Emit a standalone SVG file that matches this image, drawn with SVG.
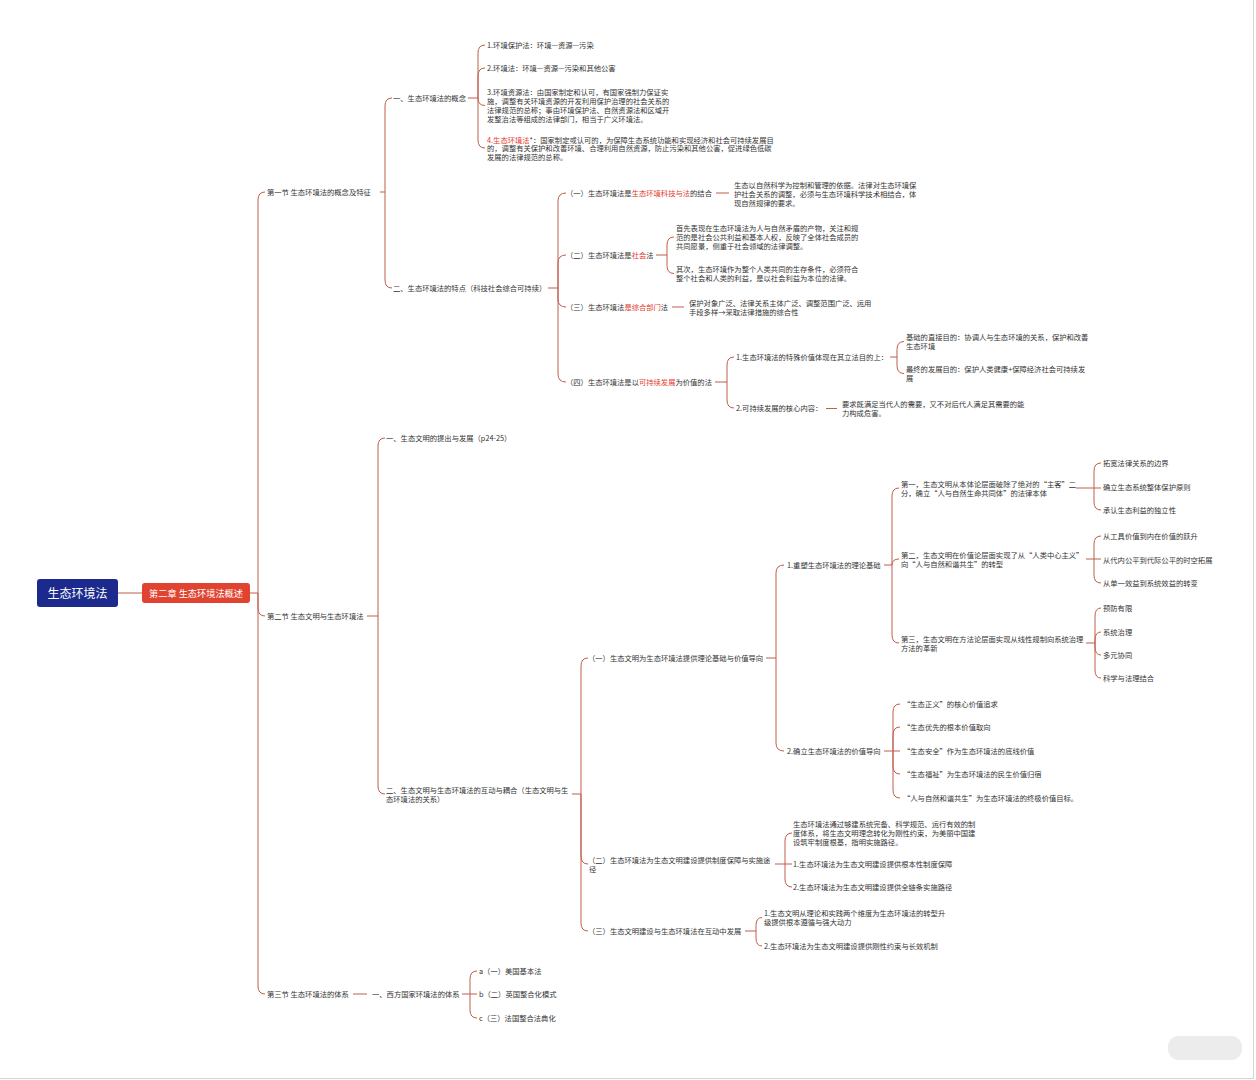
<svg xmlns="http://www.w3.org/2000/svg" width="1256" height="1080" viewBox="0 0 1256 1080">
<style>
text{font-family:"Noto Sans CJK SC","Noto Sans",sans-serif;font-size:7.3px;fill:#333}
.r{fill:#e23b2e}
.c path{fill:none;stroke:#bf5f4c;stroke-width:1}
.root{font-size:12px;fill:#fff}
.ch{font-size:9.2px;fill:#fff}
</style>
<rect width="1256" height="1080" fill="#fff"/>
<line x1="1253.5" y1="0" x2="1253.5" y2="1079" stroke="#d4d4d4"/>
<line x1="0" y1="1078.5" x2="1254" y2="1078.5" stroke="#d4d4d4"/>
<rect x="1168" y="1036" width="74" height="24" rx="11" fill="#ececec"/>

<g class="c" id="connectors">
<path d="M118 593H142"/>
<path d="M250 593H258M258 593V200Q258 192 265 192M258 593V608Q258 616 265 616M258 593V986Q258 994 265 994"/>
<path d="M380 192H385M385 192V106Q385 98 392 98M385 192V280Q385 288 392 288"/>
<path d="M468 98H478M478 98V53Q478 45 485 45M478 98V76Q478 68 485 68M478 98Q478 105.5 485 105.5M478 98V140Q478 148 485 148"/>
<path d="M548 288H558M558 288V201Q558 193 566 193M558 288V263Q558 255 566 255M558 288V299Q558 307 566 307M558 288V374Q558 382 566 382"/>
<path d="M716 193H729"/>
<path d="M656 255H667M667 255V245Q667 237 674 237M667 255V265.5Q667 273.5 674 273.5"/>
<path d="M672 307H684"/>
<path d="M715 382H727M727 382V365Q727 357 734 357M727 382V400Q727 408 734 408"/>
<path d="M890 357H897M897 357V349.5Q897 341.5 904 341.5M897 357V365.5Q897 373.5 904 373.5"/>
<path d="M826 408.5H837"/>
<path d="M367 616H378M378 616V446Q378 438 385 438M378 616V786Q378 794 385 794"/>
<path d="M572 794H581M581 794V666Q581 658 588 658M581 794V856Q581 864 588 864M581 794V923Q581 931 588 931"/>
<path d="M766 658H776M776 658V573Q776 565 784 565M776 658V743Q776 751 784 751"/>
<path d="M884 565H892M892 565V496Q892 488 899 488M892 565Q892 559 899 559M892 565V635Q892 643 899 643"/>
<path d="M1076 488H1094M1094 488V471Q1094 463 1101 463M1094 488H1101M1094 488V502Q1094 510 1101 510"/>
<path d="M1086 559H1094M1094 559V544Q1094 536 1101 536M1094 559H1101M1094 559V575Q1094 583 1101 583"/>
<path d="M1086 643H1095M1095 643V616Q1095 608 1101 608M1095 643V640Q1095 632 1101 632M1095 643V647Q1095 655 1101 655M1095 643V670Q1095 678 1101 678"/>
<path d="M884 751H893M893 751V712Q893 704 900 704M893 751V735Q893 727 900 727M893 751H900M893 751V766Q893 774 900 774M893 751V790Q893 798 900 798"/>
<path d="M775 864H785M785 864V841Q785 833 792 833M785 864H792M785 864V879Q785 887 792 887"/>
<path d="M745 931H756M756 931V925.5Q756 917.5 762 917.5M756 931V938Q756 946 762 946"/>
<path d="M353 994H367"/>
<path d="M462 994H470M470 994V979Q470 971 477 971M470 994H477M470 994V1010Q470 1018 477 1018"/>
</g>

<g id="root"><rect x="37" y="579" width="81" height="28" rx="3" fill="#1b2a8c"/><text class="root" x="77.5" y="597.5" text-anchor="middle">生态环境法</text></g>
<g id="chapter"><rect x="142" y="583" width="108" height="20" rx="3" fill="#e0432f"/><text class="ch" x="196" y="596.5" text-anchor="middle">第二章 生态环境法概述</text></g>

<g id="s1"><text x="267" y="194.7">第一节 生态环境法的概念及特征</text></g>
<g id="s1-1"><text x="393" y="100.7">一、生态环境法的概念</text></g>
<g id="s1-1-1"><text x="487" y="47.7">1.环境保护法：环境—资源—污染</text></g>
<g id="s1-1-2"><text x="487" y="70.7">2.环境法：环境—资源—污染和其他公害</text></g>
<g id="s1-1-3"><text x="487" y="94.7">3.环境资源法：由国家制定和认可，有国家强制力保证实</text><text x="487" y="103.7">施，调整有关环境资源的开发利用保护治理的社会关系的</text><text x="487" y="112.7">法律规范的总称；事由环境保护法、自然资源法和区域开</text><text x="487" y="121.7">发整治法等组成的法律部门，相当于广义环境法。</text></g>
<g id="s1-1-4"><text x="487" y="142.7"><tspan class="r">4.生态环境法</tspan>*：国家制定或认可的，为保障生态系统功能和实现经济和社会可持续发展目</text><text x="487" y="151.4">的，调整有关保护和改善环境、合理利用自然资源，防止污染和其他公害，促进绿色低碳</text><text x="487" y="160.1">发展的法律规范的总称。</text></g>
<g id="s1-2"><text x="393" y="290.7">二、生态环境法的特点（科技社会综合可持续）</text></g>
<g id="s1-2-1"><text x="566" y="195.7">（一）生态环境法是<tspan class="r">生态环境科技与法</tspan>的结合</text></g>
<g id="s1-2-1a"><text x="734" y="187.7">生态以自然科学为控制和管理的依据。法律对生态环境保</text><text x="734" y="196.7">护社会关系的调整，必须与生态环境科学技术相结合，体</text><text x="734" y="205.7">现自然规律的要求。</text></g>
<g id="s1-2-2"><text x="566" y="257.7">（二）生态环境法是<tspan class="r">社会</tspan>法</text></g>
<g id="s1-2-2a"><text x="676" y="230.7">首先表现在生态环境法为人与自然矛盾的产物，关注和规</text><text x="676" y="239.7">范的是社会公共利益和基本人权，反映了全体社会成员的</text><text x="676" y="248.7">共同愿景，侧重于社会领域的法律调整。</text></g>
<g id="s1-2-2b"><text x="676" y="271.7">其次，生态环境作为整个人类共同的生存条件，必须符合</text><text x="676" y="280.7">整个社会和人类的利益，是以社会利益为本位的法律。</text></g>
<g id="s1-2-3"><text x="566" y="309.7">（三）生态环境法<tspan class="r">是综合部门</tspan>法</text></g>
<g id="s1-2-3a"><text x="689" y="305.7">保护对象广泛、法律关系主体广泛、调整范围广泛、运用</text><text x="689" y="314.7">手段多样→采取法律措施的综合性</text></g>
<g id="s1-2-4"><text x="566" y="384.7">（四）生态环境法是以<tspan class="r">可持续发展</tspan>为价值的法</text></g>
<g id="s1-2-4-1"><text x="736" y="359.7">1.生态环境法的特殊价值体现在其立法目的上：</text></g>
<g id="s1-2-4-1a"><text x="906" y="339.7">基础的直接目的：协调人与生态环境的关系，保护和改善</text><text x="906" y="348.7">生态环境</text></g>
<g id="s1-2-4-1b"><text x="906" y="371.7">最终的发展目的：保护人类健康+保障经济社会可持续发</text><text x="906" y="380.7">展</text></g>
<g id="s1-2-4-2"><text x="736" y="410.7">2.可持续发展的核心内容：</text></g>
<g id="s1-2-4-2a"><text x="842" y="406.7">要求既满足当代人的需要，又不对后代人满足其需要的能</text><text x="842" y="415.7">力构成危害。</text></g>

<g id="s2"><text x="267" y="618.7">第二节 生态文明与生态环境法</text></g>
<g id="s2-1"><text x="386" y="440.7">一、生态文明的提出与发展（p24-25）</text></g>
<g id="s2-2"><text x="386" y="792.7">二、生态文明与生态环境法的互动与耦合（生态文明与生</text><text x="386" y="801.7">态环境法的关系）</text></g>
<g id="s2-2-1"><text x="588" y="660.7">（一）生态文明为生态环境法提供理论基础与价值导向</text></g>
<g id="s2-2-1-1"><text x="787" y="567.7">1.重塑生态环境法的理论基础</text></g>
<g id="s2-2-1-1a"><text x="901" y="486.7">第一，生态文明从本体论层面破除了绝对的“主客”二</text><text x="901" y="495.7">分，确立“人与自然生命共同体”的法律本体</text></g>
<g id="n-a1"><text x="1103" y="465.7">拓宽法律关系的边界</text></g>
<g id="n-a2"><text x="1103" y="489.7">确立生态系统整体保护原则</text></g>
<g id="n-a3"><text x="1103" y="512.7">承认生态利益的独立性</text></g>
<g id="s2-2-1-1b"><text x="901" y="557.7">第二，生态文明在价值论层面实现了从“人类中心主义”</text><text x="901" y="566.7">向“人与自然和谐共生”的转型</text></g>
<g id="n-b1"><text x="1103" y="538.7">从工具价值到内在价值的跃升</text></g>
<g id="n-b2"><text x="1103" y="562.7">从代内公平到代际公平的时空拓展</text></g>
<g id="n-b3"><text x="1103" y="585.7">从单一效益到系统效益的转变</text></g>
<g id="s2-2-1-1c"><text x="901" y="641.7">第三，生态文明在方法论层面实现从线性规制向系统治理</text><text x="901" y="650.7">方法的革新</text></g>
<g id="n-c1"><text x="1103" y="610.7">预防有限</text></g>
<g id="n-c2"><text x="1103" y="634.7">系统治理</text></g>
<g id="n-c3"><text x="1103" y="657.7">多元协同</text></g>
<g id="n-c4"><text x="1103" y="680.7">科学与法理结合</text></g>
<g id="s2-2-1-2"><text x="787" y="753.7">2.确立生态环境法的价值导向</text></g>
<g id="n-d1"><text x="903" y="706.7">“生态正义”的核心价值追求</text></g>
<g id="n-d2"><text x="903" y="729.7">“生态优先的根本价值取向</text></g>
<g id="n-d3"><text x="903" y="753.7">“生态安全”作为生态环境法的底线价值</text></g>
<g id="n-d4"><text x="903" y="776.7">“生态福祉”为生态环境法的民生价值归宿</text></g>
<g id="n-d5"><text x="903" y="800.7">“人与自然和谐共生”为生态环境法的终极价值目标。</text></g>
<g id="s2-2-2"><text x="588" y="862.7">（二）生态环境法为生态文明建设提供制度保障与实施途</text><text x="589" y="871.7">径</text></g>
<g id="s2-2-2a"><text x="793" y="826.7">生态环境法通过够建系统完备、科学规范、运行有效的制</text><text x="793" y="835.7">度体系，将生态文明理念转化为刚性约束，为美丽中国建</text><text x="793" y="844.7">设筑牢制度根基，指明实施路径。</text></g>
<g id="s2-2-2b"><text x="793" y="866.7">1.生态环境法为生态文明建设提供根本性制度保障</text></g>
<g id="s2-2-2c"><text x="793" y="889.7">2.生态环境法为生态文明建设提供全链条实施路径</text></g>
<g id="s2-2-3"><text x="588" y="933.7">（三）生态文明建设与生态环境法在互动中发展</text></g>
<g id="s2-2-3a"><text x="764" y="915.7">1.生态文明从理论和实践两个维度为生态环境法的转型升</text><text x="764" y="924.7">级提供根本遵循与强大动力</text></g>
<g id="s2-2-3b"><text x="764" y="948.7">2.生态环境法为生态文明建设提供刚性约束与长效机制</text></g>

<g id="s3"><text x="267" y="996.7">第三节 生态环境法的体系</text></g>
<g id="s3-1"><text x="372" y="996.7">一、西方国家环境法的体系</text></g>
<g id="s3-1-a"><text x="479" y="973.7">a（一）美国基本法</text></g>
<g id="s3-1-b"><text x="479" y="996.7">b（二）英国整合化模式</text></g>
<g id="s3-1-c"><text x="479" y="1020.7">c（三）法国整合法典化</text></g>
</svg>
